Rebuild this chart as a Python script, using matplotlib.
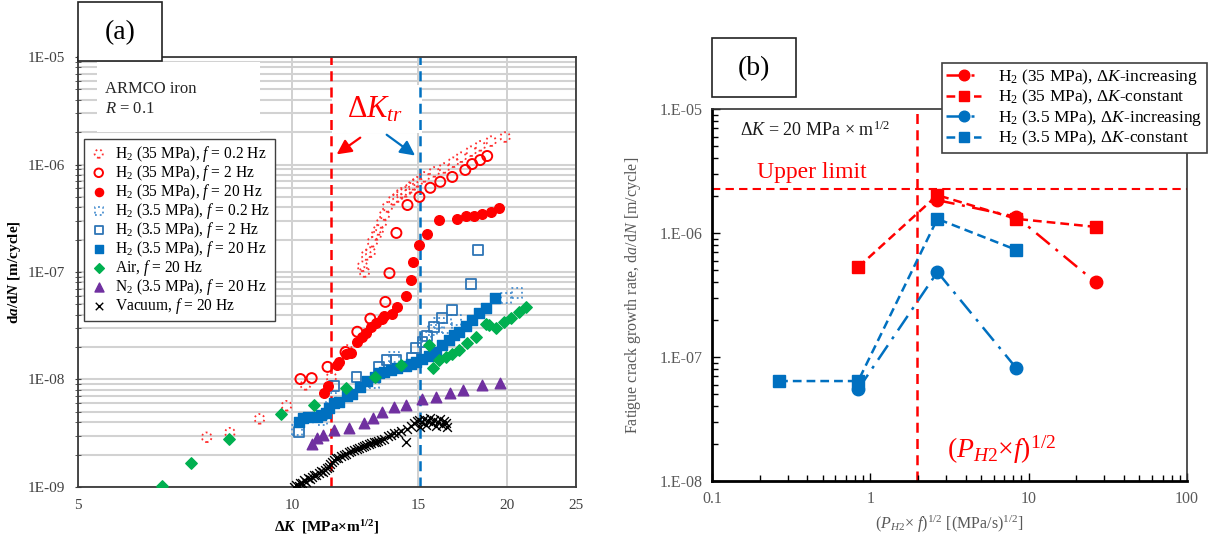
import numpy as np
import matplotlib
matplotlib.use("Agg")
import matplotlib.pyplot as plt
from matplotlib.patches import Rectangle
from matplotlib.ticker import FixedLocator, LogLocator, NullFormatter, NullLocator, FuncFormatter

# ---- panel (a) data: dK [MPa m^1/2] vs da/dN [m/cycle]
h35_02_k = [7.58, 8.17, 8.99, 9.81, 10.43, 11.34, 11.94, 12.54, 12.62, 12.70, 12.86, 12.95, 13.11,
            13.20, 13.33, 13.46, 13.59, 13.86, 14.04, 14.22, 14.41, 14.64, 14.78, 14.97, 15.31,
            15.81, 16.33, 16.82, 17.25, 17.81, 18.34, 19.00, 19.88]
h35_02_r = [2.9e-9, 3.2e-9, 4.3e-9, 5.7e-9, 8.9e-9, 1.05e-8, 1.88e-8, 1.13e-7, 1.0e-7, 1.44e-7,
            1.53e-7, 1.91e-7, 2.21e-7, 2.46e-7, 2.86e-7, 3.39e-7, 4.03e-7, 4.68e-7, 4.99e-7,
            5.44e-7, 5.56e-7, 6.07e-7, 6.47e-7, 6.9e-7, 7.66e-7, 8.53e-7, 9.28e-7, 1.05e-6,
            1.17e-6, 1.33e-6, 1.49e-6, 1.65e-6, 1.8e-6]

h35_2_k = [10.26, 10.64, 11.20, 11.87, 12.33, 12.86, 13.50, 13.68, 13.99, 14.50, 15.07, 15.61,
           16.12, 16.76, 17.48, 17.87, 18.34, 18.76]
h35_2_r = [1.01e-8, 1.03e-8, 1.31e-8, 1.8e-8, 2.78e-8, 3.68e-8, 5.27e-8, 9.76e-8, 2.31e-7, 4.2e-7,
           5.0e-7, 6.07e-7, 6.9e-7, 7.66e-7, 8.9e-7, 1.01e-6, 1.1e-6, 1.2e-6]

h35_20_k = [11.09, 11.20, 11.53, 11.64, 11.90, 12.10, 12.33, 12.50, 12.70, 12.90, 13.11, 13.37,
            13.46, 13.81, 14.04, 14.41, 14.68, 14.78, 15.07, 15.46, 16.07, 17.03, 17.53, 17.99,
            18.46, 19.00, 19.50]
h35_20_r = [7.5e-9, 8.7e-9, 1.36e-8, 1.46e-8, 1.73e-8, 1.77e-8, 2.23e-8, 2.5e-8, 2.72e-8, 3.1e-8,
            3.38e-8, 3.68e-8, 3.87e-8, 4.04e-8, 4.74e-8, 5.98e-8, 8.4e-8, 1.24e-7, 1.79e-7,
            2.26e-7, 3.05e-7, 3.12e-7, 3.32e-7, 3.32e-7, 3.47e-7, 3.62e-7, 3.95e-7]

h3_02_k = [10.15, 11.02, 11.34, 13.03, 13.90, 15.41, 15.72, 16.07, 16.47, 16.98, 19.95, 20.67]
h3_02_r = [3.4e-9, 4.2e-9, 6.7e-9, 9.2e-9, 1.62e-8, 2.5e-8, 2.9e-8, 3.38e-8, 3.03e-8, 3.6e-8,
           5.73e-8, 6.38e-8]

h3_2_k = [10.20, 11.45, 12.30, 13.24, 13.55, 13.99, 14.73, 14.92, 15.22, 15.46, 15.81, 16.23,
          16.76, 17.81, 18.22]
h3_2_r = [3.26e-9, 8.7e-9, 1.05e-8, 1.31e-8, 1.52e-8, 1.52e-8, 1.59e-8, 1.96e-8, 2.23e-8, 2.55e-8,
          3.1e-8, 3.71e-8, 4.4e-8, 7.71e-8, 1.6e-7]

h3_20_k = [10.20, 10.33, 10.50, 10.81, 10.95, 11.16, 11.27, 11.45, 11.64, 11.94, 12.14, 12.42,
           12.74, 13.07, 13.24, 13.46, 13.77, 14.04, 14.45, 14.68, 14.92, 15.22, 15.56, 15.91,
           16.23, 16.60, 16.87, 17.14, 17.53, 17.87, 18.28, 18.70, 19.25]
h3_20_r = [4.02e-9, 4.38e-9, 4.47e-9, 4.47e-9, 4.67e-9, 4.88e-9, 5.4e-9, 6.0e-9, 6.13e-9, 7.03e-9,
           7.34e-9, 8.5e-9, 9.7e-9, 1.05e-8, 1.14e-8, 1.17e-8, 1.22e-8, 1.28e-8, 1.34e-8, 1.4e-8,
           1.46e-8, 1.55e-8, 1.65e-8, 1.8e-8, 2.09e-8, 2.33e-8, 2.6e-8, 2.78e-8, 3.16e-8, 3.6e-8,
           4.13e-8, 4.64e-8, 5.73e-8]

air_k = [6.55, 7.20, 8.14, 9.65, 10.71, 11.90, 13.07, 14.18, 15.56, 15.76, 16.07, 16.44, 16.76,
         17.14, 17.59, 18.10, 18.70, 18.88, 19.31, 19.81, 20.27, 20.80, 21.28]
air_r = [1.02e-9, 1.67e-9, 2.8e-9, 4.77e-9, 5.75e-9, 8.35e-9, 1.05e-8, 1.36e-8, 2.09e-8, 1.28e-8,
         1.52e-8, 1.62e-8, 1.73e-8, 1.88e-8, 2.19e-8, 2.5e-8, 3.3e-8, 3.23e-8, 3.03e-8, 3.45e-8,
         3.71e-8, 4.22e-8, 4.74e-8]

n2_k = [10.64, 10.81, 11.02, 11.45, 12.02, 12.62, 12.98, 13.37, 13.90, 14.45, 15.22, 15.91, 16.65,
        17.37, 18.46, 19.56]
n2_r = [2.53e-9, 2.87e-9, 3.05e-9, 3.4e-9, 3.55e-9, 3.94e-9, 4.38e-9, 4.98e-9, 5.51e-9, 5.75e-9,
        6.6e-9, 6.9e-9, 7.5e-9, 8.0e-9, 8.9e-9, 9.3e-9]

vac_k = [10.05, 10.12, 10.20, 10.25, 10.30, 10.38, 10.45, 10.50, 10.58, 10.65, 10.72, 10.80, 10.88,
         10.95, 11.02, 11.10, 11.18, 11.25, 11.30, 11.35, 11.42, 11.50, 11.60, 11.70, 11.80, 11.90,
         12.00, 12.10, 12.20, 12.30, 12.40, 12.50, 12.60, 12.70, 12.80, 12.90, 13.00, 13.10, 13.20,
         13.30, 13.45, 13.60, 13.75, 13.90, 14.05, 14.20, 14.41, 14.50, 14.65, 14.80, 14.95, 15.05,
         15.10, 15.20, 15.30, 15.40, 15.50, 15.60, 15.70, 15.80, 15.90, 16.00, 16.10, 16.20, 16.30,
         16.40, 16.50]
vac_r = [1.0e-9, 1.05e-9, 1.02e-9, 1.1e-9, 1.08e-9, 1.15e-9, 1.12e-9, 1.2e-9, 1.18e-9, 1.25e-9,
         1.3e-9, 1.28e-9, 1.35e-9, 1.4e-9, 1.38e-9, 1.45e-9, 1.5e-9, 1.55e-9, 1.62e-9, 1.7e-9,
         1.78e-9, 1.85e-9, 1.88e-9, 1.95e-9, 2.0e-9, 2.02e-9, 2.1e-9, 2.15e-9, 2.2e-9, 2.25e-9,
         2.3e-9, 2.35e-9, 2.4e-9, 2.45e-9, 2.5e-9, 2.55e-9, 2.6e-9, 2.62e-9, 2.7e-9, 2.75e-9,
         2.8e-9, 3.0e-9, 3.05e-9, 3.15e-9, 3.2e-9, 3.3e-9, 2.6e-9, 3.5e-9, 3.7e-9, 3.9e-9, 4.1e-9,
         4.2e-9, 3.6e-9, 4.0e-9, 4.3e-9, 3.8e-9, 4.1e-9, 4.4e-9, 3.9e-9, 4.2e-9, 3.7e-9, 4.0e-9,
         4.3e-9, 3.8e-9, 4.1e-9, 3.9e-9, 3.6e-9]

dk_tr_35 = 11.34
dk_tr_3 = 15.1

# ---- panel (b) data: (P_H2 x f)^1/2 vs da/dN at dK = 20
h35_inc_x = [2.65, 8.37, 26.5]
h35_inc_r = [1.84e-6, 1.35e-6, 4.0e-7]
h35_con_x = [0.837, 2.65, 8.37, 26.5]
h35_con_r = [5.3e-7, 2.02e-6, 1.3e-6, 1.12e-6]
h3_inc_x = [0.837, 2.65, 8.37]
h3_inc_r = [5.5e-8, 4.85e-7, 8.1e-8]
h3_con_x = [0.265, 0.837, 2.65, 8.37]
h3_con_r = [6.4e-8, 6.4e-8, 1.3e-6, 7.3e-7]
upper_limit = 2.27e-6
phf_limit = 1.98

RED = "#ff0000"
BLUE = "#0070c0"

plt.rcParams["font.family"] = ["Liberation Serif", "DejaVu Serif"]
plt.rcParams["mathtext.fontset"] = "custom"
plt.rcParams["mathtext.rm"] = "Liberation Serif"
plt.rcParams["mathtext.it"] = "Liberation Serif:italic"
plt.rcParams["mathtext.bf"] = "Liberation Serif:bold"
plt.rcParams["mathtext.bfit"] = "Liberation Serif:italic:bold"

fig = plt.figure(figsize=(12.22, 5.42), dpi=100)
ax1 = fig.add_axes([0.0638, 0.1015, 0.4076, 0.7933])
ax2 = fig.add_axes([0.5827, 0.1125, 0.3887, 0.6864])

# ================= panel (a)
ax1.set_xscale("log")
ax1.set_yscale("log")
ax1.set_xlim(5, 25)
ax1.set_ylim(1e-9, 1e-5)
ax1.xaxis.set_major_locator(FixedLocator([5, 10, 15, 20, 25]))
ax1.xaxis.set_minor_locator(NullLocator())
ax1.xaxis.set_major_formatter(FuncFormatter(lambda v, p: f"{v:g}"))
ax1.yaxis.set_major_locator(LogLocator(base=10))
ax1.yaxis.set_minor_locator(LogLocator(base=10, subs=range(2, 10)))
ax1.yaxis.set_minor_formatter(NullFormatter())
ax1.yaxis.set_major_formatter(FuncFormatter(lambda v, p: f"1E-{-int(round(np.log10(v))):02d}"))
ax1.set_axisbelow(True)
ax1.grid(True, which="both", axis="y", color="#d2d2d2", lw=1.5)
ax1.grid(True, which="major", axis="x", color="#c8c8c8", lw=1.2)
ax1.tick_params(axis="x", length=0, labelsize=11, colors="#404040", pad=9)
ax1.tick_params(axis="y", which="both", direction="inout", length=5, labelsize=11,
                colors="#404040", pad=7)
for s in ax1.spines.values():
    s.set_color("#3a3a3a")
    s.set_linewidth(1.3)

ax1.scatter(h35_02_k, h35_02_r, s=48, marker="o", facecolors="none", edgecolors="#ff3030",
            linewidths=1.3, linestyle=":", zorder=3, label="H$_2$ (35 MPa), $f$ = 0.2 Hz")
ax1.scatter(h35_2_k, h35_2_r, s=52, marker="o", facecolors="none", edgecolors=RED,
            linewidths=1.4, zorder=3, label="H$_2$ (35 MPa), $f$ = 2 Hz")
ax1.scatter(h35_20_k, h35_20_r, s=48, marker="o", color=RED, zorder=4,
            label="H$_2$ (35 MPa), $f$ = 20 Hz")
ax1.scatter(h3_02_k, h3_02_r, s=50, marker="s", facecolors="none", edgecolors="#4a90d0",
            linewidths=1.3, linestyle=":", zorder=3, label="H$_2$ (3.5 MPa), $f$ = 0.2 Hz")
ax1.scatter(h3_2_k, h3_2_r, s=50, marker="s", facecolors="none", edgecolors="#2e75b6",
            linewidths=1.3, zorder=3, label="H$_2$ (3.5 MPa), $f$ = 2 Hz")
ax1.scatter(h3_20_k, h3_20_r, s=48, marker="s", color=BLUE, zorder=4,
            label="H$_2$ (3.5 MPa), $f$ = 20 Hz")
ax1.scatter(air_k, air_r, s=34, marker="D", color="#00b050", zorder=4, label="Air, $f$ = 20 Hz")
ax1.scatter(n2_k, n2_r, s=58, marker="^", color="#7030a0", zorder=4,
            label="N$_2$ (3.5 MPa), $f$ = 20 Hz")
ax1.scatter(vac_k, vac_r, s=40, marker="x", color="black", linewidths=1.0, zorder=4,
            label="Vacuum, $f$ = 20 Hz")

ax1.axvline(dk_tr_35, color=RED, ls=(0, (4, 2.5)), lw=1.8, zorder=2)
ax1.axvline(dk_tr_3, color=BLUE, ls=(0, (4, 2.5)), lw=1.8, zorder=2)

# white patches hiding the grid behind the notes
ax1.add_patch(Rectangle((0.038, 0.826), 0.327, 0.162, transform=ax1.transAxes,
                        facecolor="white", edgecolor="none", zorder=1))
ax1.add_patch(Rectangle((0.51, 0.823), 0.181, 0.112, transform=ax1.transAxes,
                        facecolor="white", edgecolor="none", zorder=1))
ax1.text(0.054, 0.902, "ARMCO iron\n$R$ = 0.1", transform=ax1.transAxes, fontsize=12,
         va="center", ha="left", linespacing=1.3, color="#262626", zorder=2)
ax1.text(13.05, 3.25e-6, "Δ$K_{tr}$", color=RED, fontsize=22, ha="center", va="center", zorder=3)
ax1.annotate("", xy=(11.45, 1.2e-6), xytext=(12.54, 1.84e-6),
             arrowprops=dict(arrowstyle="-|>", color=RED, lw=1.6, mutation_scale=22))
ax1.annotate("", xy=(14.97, 1.17e-6), xytext=(13.46, 1.96e-6),
             arrowprops=dict(arrowstyle="-|>", color=BLUE, lw=1.6, mutation_scale=22))

leg1 = ax1.legend(loc="upper left", bbox_to_anchor=(0.012, 0.809), borderaxespad=0,
                  fontsize=11.2, fancybox=False, edgecolor="#404040", framealpha=1,
                  borderpad=0.3, labelspacing=-0.06, handletextpad=0.4, handlelength=1.3,
                  scatterpoints=1, markerscale=0.85)
leg1.get_frame().set_linewidth(1.0)

ax1.set_ylabel(r"d$\mathbfit{a}$/d$\mathbfit{N}$ [m/cycle]", fontsize=11, fontweight="bold",
               labelpad=3)
ax1.set_xlabel(r"Δ$\mathbfit{K}$  [MPa×m$^{\mathbf{1/2}}$]", fontsize=11, fontweight="bold",
               labelpad=4)

# ================= panel (b)
ax2.set_xscale("log")
ax2.set_yscale("log")
ax2.set_xlim(0.1, 100)
ax2.set_ylim(1e-8, 1e-5)
ax2.xaxis.set_major_formatter(FuncFormatter(lambda v, p: f"{v:g}"))
ax2.xaxis.set_minor_formatter(NullFormatter())
ax2.yaxis.set_major_formatter(FuncFormatter(lambda v, p: f"1.E-{-int(round(np.log10(v))):02d}"))
ax2.yaxis.set_minor_formatter(NullFormatter())
ax2.tick_params(which="both", direction="in", colors="black", labelcolor="#595959",
                labelsize=11.5, width=1.0)
ax2.tick_params(which="major", length=6, pad=7)
ax2.tick_params(which="minor", length=4)
ax2.spines["left"].set_linewidth(2.0)
ax2.spines["bottom"].set_linewidth(2.0)
ax2.spines["top"].set_linewidth(1.2)
ax2.spines["right"].set_linewidth(1.2)
ax2.spines["top"].set_color("#333333")
ax2.spines["right"].set_color("#333333")

ax2.axhline(upper_limit, color=RED, ls=(0, (4, 2.5)), lw=1.5, zorder=1)
ax2.axvline(phf_limit, color=RED, ls=(0, (4, 2.5)), lw=1.8, zorder=1)

ax2.plot(h35_inc_x, h35_inc_r, color=RED, marker="o", ms=9, lw=1.8, dashes=[7, 3, 1.2, 3],
         label="H$_2$ (35 MPa), Δ$K$-increasing", zorder=3)
ax2.plot(h35_con_x, h35_con_r, color=RED, marker="s", ms=9, lw=1.8, dashes=[3.5, 2],
         label="H$_2$ (35 MPa), Δ$K$-constant", zorder=3)
ax2.plot(h3_inc_x, h3_inc_r, color=BLUE, marker="o", ms=9, lw=1.8, dashes=[7, 3, 1.2, 3],
         label="H$_2$ (3.5 MPa), Δ$K$-increasing", zorder=3)
ax2.plot(h3_con_x, h3_con_r, color=BLUE, marker="s", ms=9, lw=1.8, dashes=[3.5, 2],
         label="H$_2$ (3.5 MPa), Δ$K$-constant", zorder=3)

ax2.text(0.059, 0.944, r"$\mathit{\Delta K}$ = 20 MPa$\,\times\,$m$^{1/2}$",
         transform=ax2.transAxes, fontsize=13, va="center", ha="left", color="#1a1a1a")
ax2.text(0.095, 0.83, "Upper limit", transform=ax2.transAxes, fontsize=17, color=RED,
         va="center", ha="left")
ax2.text(0.495, 0.083, r"($P_{H2}$$\times$$f$)$^{1/2}$", transform=ax2.transAxes, fontsize=20,
         color=RED, va="center", ha="left")

leg2 = ax2.legend(loc="upper left", bbox_to_anchor=(0.484, 1.124), borderaxespad=0,
                  fontsize=12.5, fancybox=False, edgecolor="#404040", framealpha=1,
                  borderpad=0.25, labelspacing=0.05, handletextpad=1.0, handlelength=2.0,
                  markerscale=0.85)
leg2.get_frame().set_linewidth(1.2)

ax2.set_ylabel("Fatigue crack growth rate, d$a$/d$N$ [m/cycle]", fontsize=11.5,
               color="#595959", labelpad=12)
ax2.set_xlabel(r"($P_{H2}$$\times$ $f$)$^{1/2}$ [(MPa/s)$^{1/2}$]", fontsize=11.5,
               color="#595959", labelpad=5)

# ---- panel tags
for (x0, y0), tag in [((0.0638, 0.8875), "(a)"), ((0.5827, 0.821), "(b)")]:
    fig.add_artist(Rectangle((x0, y0), 0.0687, 0.108, transform=fig.transFigure,
                             facecolor="white", edgecolor="#222222", lw=1.2, zorder=10))
    fig.text(x0 + 0.0344, y0 + 0.052, tag, fontsize=20, ha="center", va="center", zorder=11)

fig.savefig("out.png", dpi=100)
